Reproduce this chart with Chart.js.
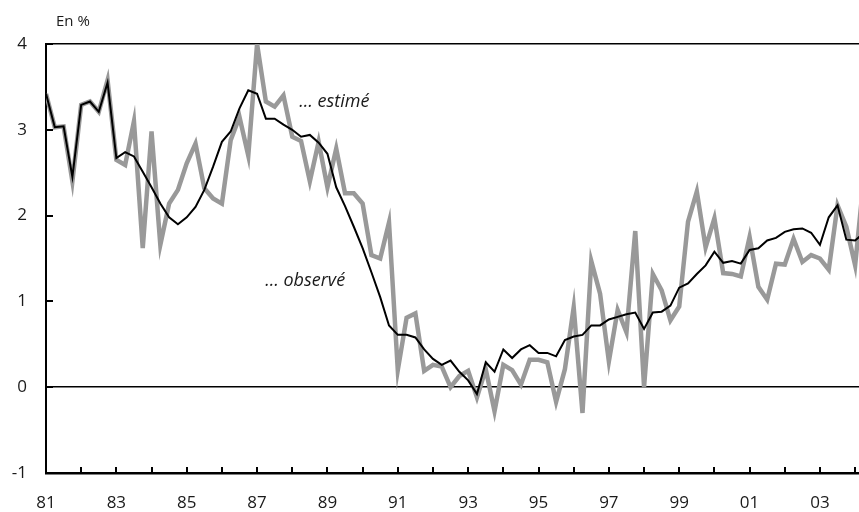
<!DOCTYPE html>
<html>
<head>
<meta charset="utf-8">
<script src="https://cdn.jsdelivr.net/npm/chart.js@4.4.1/dist/chart.umd.min.js"></script>
<style>
  html, body { margin: 0; padding: 0; background: #fff; }
  #wrap { width: 859px; height: 512px; }
</style>
</head>
<body>
<div id="wrap"><canvas id="chart" width="859" height="512"></canvas></div>
<script>
// Trimestres 1981T1 -> 2004T2 (le dernier est coupé par le bord droit)
const START_YEAR = 1981;
const YEARS = [1981, 1982, 1983, 1984, 1985, 1986, 1987, 1988, 1989, 1990, 1991, 1992,
               1993, 1994, 1995, 1996, 1997, 1998, 1999, 2000, 2001, 2002, 2003, 2004];
const X_TICK_LABELS = ['81', '83', '85', '87', '89', '91', '93', '95', '97', '99', '01', '03'];
const Y_TICKS = [-1, 0, 1, 2, 3, 4];

// ... estimé (gris, trimestriel)
const ESTIME = [
  3.42, 3.03, 3.04, 2.40, 3.29, 3.33, 3.21, 3.58,
  2.65, 2.59, 3.10, 1.62, 2.98, 1.66, 2.14, 2.30,
  2.61, 2.84, 2.32, 2.20, 2.14, 2.88, 3.15, 2.70,
  4.00, 3.33, 3.27, 3.40, 2.92, 2.87, 2.40, 2.86,
  2.33, 2.78, 2.26, 2.26, 2.14, 1.54, 1.50, 1.92,
  0.20, 0.81, 0.86, 0.19, 0.26, 0.24, 0.00, 0.13,
  0.19, -0.12, 0.21, -0.28, 0.26, 0.20, 0.03, 0.32,
  0.32, 0.29, -0.17, 0.21, 0.93, -0.30, 1.47, 1.09,
  0.30, 0.90, 0.64, 1.82, 0.00, 1.32, 1.13, 0.78,
  0.94, 1.93, 2.28, 1.63, 1.97, 1.33, 1.32, 1.29,
  1.75, 1.17, 1.02, 1.44, 1.43, 1.73, 1.46, 1.54,
  1.50, 1.37, 2.12, 1.87, 1.42, 2.45,
];

// ... observé (noir, lissé)
const OBSERVE = [
  3.42, 3.03, 3.04, 2.45, 3.29, 3.33, 3.21, 3.55,
  2.67, 2.74, 2.69, 2.51, 2.33, 2.14, 1.98, 1.90,
  1.98, 2.10, 2.30, 2.57, 2.86, 2.98, 3.25, 3.46,
  3.42, 3.13, 3.13, 3.06, 3.00, 2.92, 2.94, 2.85,
  2.72, 2.33, 2.11, 1.87, 1.62, 1.34, 1.05, 0.72,
  0.61, 0.61, 0.58, 0.44, 0.33, 0.26, 0.31, 0.18,
  0.08, -0.08, 0.29, 0.18, 0.44, 0.34, 0.44, 0.49,
  0.40, 0.40, 0.36, 0.55, 0.59, 0.61, 0.72, 0.72,
  0.79, 0.82, 0.85, 0.87, 0.68, 0.87, 0.88, 0.95,
  1.16, 1.21, 1.32, 1.42, 1.58, 1.45, 1.47, 1.44,
  1.60, 1.62, 1.71, 1.74, 1.81, 1.84, 1.85, 1.80,
  1.66, 1.98, 2.12, 1.72, 1.71, 1.80,
];

const NOTES = [
  { text: '\u2026 estimé', x: 1988.2, y: 3.33 },
  { text: '\u2026 observé', x: 1987.23, y: 1.24 },
];

const FONT = "'Open Sans', 'DejaVu Sans', sans-serif";
const GREY = '#999999';
const INK = '#1a1a1a';

const quarters = ESTIME.map((_, i) => START_YEAR + i / 4);
const tickLabelByYear = {};
X_TICK_LABELS.forEach(l => { tickLabelByYear[(+l < 50 ? 2000 : 1900) + +l] = l; });

const decor = {
  id: 'decor',
  afterDraw(chart) {
    const { ctx, chartArea: a, scales: { x, y } } = chart;
    ctx.save();
    // petits traits de graduation vers l'intérieur
    ctx.strokeStyle = '#000';
    ctx.lineWidth = 2;
    ctx.beginPath();
    Y_TICKS.forEach(v => {
      const py = Math.round(y.getPixelForValue(v));
      ctx.moveTo(a.left, py);
      ctx.lineTo(a.left + 7, py);
    });
    YEARS.forEach(v => {
      const px = Math.round(x.getPixelForValue(v));
      ctx.moveTo(px, a.bottom);
      ctx.lineTo(px, a.bottom - 6);
    });
    ctx.stroke();

    ctx.fillStyle = INK;
    ctx.textBaseline = 'middle';
    ctx.textAlign = 'left';
    ctx.font = `italic 18px ${FONT}`;
    NOTES.forEach(n => ctx.fillText(n.text, x.getPixelForValue(n.x), y.getPixelForValue(n.y)));

    ctx.font = `15px ${FONT}`;
    ctx.fillText('En %', a.left + 10, a.top - 22);
    ctx.restore();
  },
};

new Chart(document.getElementById('chart'), {
  type: 'line',
  data: {
    labels: quarters,
    datasets: [
      {
        label: 'observé',
        data: OBSERVE.map((v, i) => ({ x: quarters[i], y: v })),
        borderColor: '#000',
        borderWidth: 2,
        borderJoinStyle: 'miter',
        pointRadius: 0,
        tension: 0,
        order: 1,
      },
      {
        label: 'estimé',
        data: ESTIME.map((v, i) => ({ x: quarters[i], y: v })),
        borderColor: GREY,
        borderWidth: 4.5,
        borderJoinStyle: 'miter',
        pointRadius: 0,
        tension: 0,
        order: 2,
      },
    ],
  },
  options: {
    responsive: false,
    animation: false,
    devicePixelRatio: 1,
    layout: { autoPadding: false, padding: { top: 44, right: 0, left: 0, bottom: 0 } },
    plugins: { legend: { display: false }, tooltip: { enabled: false } },
    scales: {
      x: {
        type: 'linear',
        min: 1981,
        max: 2004.11,
        afterBuildTicks(scale) { scale.ticks = YEARS.map(v => ({ value: v })); },
        afterFit(scale) { scale.height = 39; scale.paddingLeft = 0; scale.paddingRight = 0; },
        grid: { display: false, drawTicks: false },
        border: { display: true, color: '#000', width: 2.5 },
        ticks: {
          autoSkip: false,
          maxRotation: 0,
          padding: 20,
          color: INK,
          font: { family: FONT, size: 17 },
          callback: v => tickLabelByYear[v] ?? '',
        },
      },
      y: {
        min: -1,
        max: 4,
        afterBuildTicks(scale) { scale.ticks = Y_TICKS.map(v => ({ value: v })); },
        afterFit(scale) { scale.width = 46; scale.paddingTop = 0; scale.paddingBottom = 0; },
        grid: {
          drawTicks: false,
          lineWidth: 1.5,
          color: c => (c.tick && (c.tick.value === 0 || c.tick.value === 4)) ? '#000' : 'transparent',
        },
        border: { display: true, color: '#000', width: 2 },
        ticks: {
          padding: 19,
          color: INK,
          font: { family: FONT, size: 17 },
          callback: v => String(v),
        },
      },
    },
  },
  plugins: [decor],
});
</script>
</body>
</html>
